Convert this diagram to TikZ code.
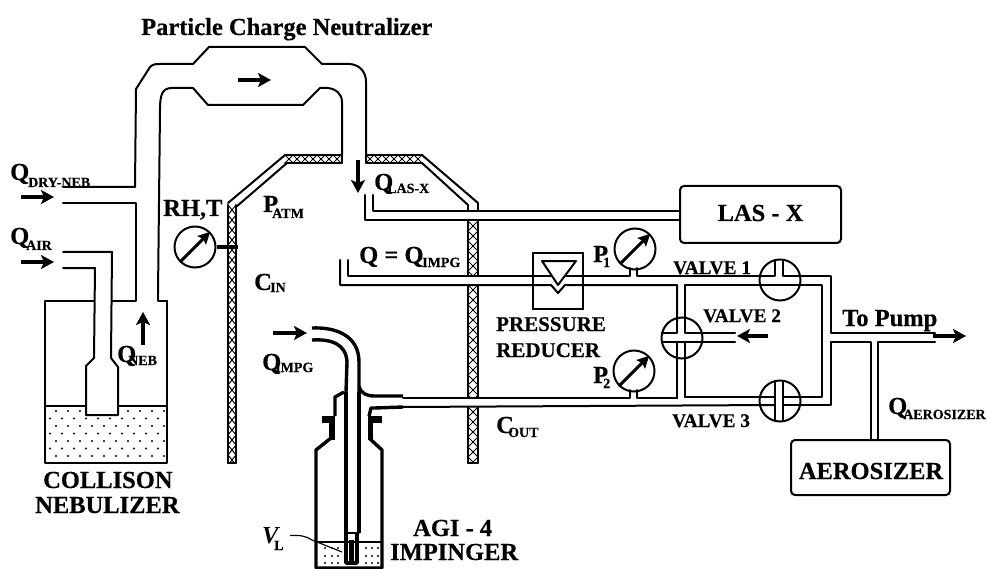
\documentclass[tikz,border=0pt]{standalone}
\usepackage{fontspec}
\setmainfont[BoldFeatures={FakeBold=0.4}]{Liberation Serif}
\usetikzlibrary{arrows.meta}
\newcommand{\hatchV}[4]{% x1 x2 y1 y2
  \begin{scope}
    \clip (#1,#3) rectangle (#2,#4);
    \foreach \ii in {0,...,30} {
      \draw[hatch] (#1,{#3+10*\ii}) -- (#2,{#3+10*\ii+10});
      \draw[hatch] (#2,{#3+10*\ii}) -- (#1,{#3+10*\ii+10});
    }
  \end{scope}
  \draw[pipe] (#1,#3) -- (#1,#4) (#2,#3) -- (#2,#4);
}
\newcommand{\hatchH}[4]{% x1 x2 y1 y2
  \begin{scope}
    \clip (#1,#3) rectangle (#2,#4);
    \foreach \ii in {0,...,7} {
      \draw[hatch] ({#1+8*\ii},#3) -- ({#1+8*\ii+8},#4);
      \draw[hatch] ({#1+8*\ii},#4) -- ({#1+8*\ii+8},#3);
    }
  \end{scope}
  \draw[pipe] (#1,#3) -- (#2,#3) (#1,#4) -- (#2,#4);
}
\tikzset{
  pipe/.style={line width=2pt,line join=round,line cap=round},
  thickpipe/.style={line width=3.4pt,line join=round},
  hatch/.style={line width=1pt},
  flow/.style={line width=3.2pt,-{Stealth[length=13pt,width=14pt,inset=3pt]}},
  gauge/.style={circle,draw,line width=2pt,minimum size=41pt,inner sep=0pt,fill=white},
  gaugeneedle/.style={line width=3pt,-{Stealth[length=12pt,width=12pt,inset=2pt]}},
  valve/.style={circle,draw,line width=2pt,minimum size=41pt,inner sep=0pt},
  unit/.style={draw,rounded corners=4pt,line width=2pt,inner sep=0pt,font=\fontsize{24.5}{24.5}\selectfont\bfseries},
  big/.style={anchor=base west,inner sep=0pt,font=\fontsize{24.5}{24.5}\selectfont\bfseries},
  mid/.style={anchor=base west,inner sep=0pt,font=\fontsize{21}{21}\selectfont\bfseries},
  small/.style={anchor=base west,inner sep=0pt,font=\fontsize{19.3}{19.3}\selectfont\bfseries},
  subs/.style={anchor=base west,inner sep=0pt,font=\fontsize{14}{14}\selectfont\bfseries},
}
\begin{document}
\begin{tikzpicture}[x=1pt,y=-1pt]
\useasboundingbox (0,0) rectangle (987,569);

% ---- neutralizer tube
\draw[pipe] (63,187) -- (135,187) -- (136,89) -- (150,67) .. controls (153,64) and (156,64) .. (160,64)
  -- (193,64) -- (209,47) -- (305,47) -- (322,64) -- (350,64)
  .. controls (360,65) and (366,72) .. (366,82) -- (366,155);
\draw[pipe] (63,203) -- (136,203) -- (136,301) -- (112,301);
\draw[pipe] (158,294) -- (160,110) .. controls (160,95) and (162,88) .. (172,88) -- (193,88)
  -- (208,105) -- (303,105) -- (320,88) -- (328,88)
  .. controls (336,89) and (342,94) .. (342,102) -- (342,155);
\draw[pipe] (158,294) -- (158,301) -- (167,301);

% ---- Collison nebulizer
\foreach \yy [count=\rr] in {411,418.5,426,433.5,441,448.5,456} {
  \foreach \xx in {50,62,...,158} {
    \pgfmathsetmacro{\dx}{mod(\rr,2)*6}
    \fill ({\xx+\dx},\yy) circle (1.2pt);
  }
}
\fill[white] (87,400) rectangle (117,414);
\draw[pipe] (94,301) -- (45,301) -- (45,463) -- (167,463) -- (167,301);
\draw[pipe] (45,406) -- (86,406) (118,406) -- (167,406);
\draw[pipe] (63,252) -- (112,252) -- (111,358) -- (118,367) -- (118,415) -- (86,415) -- (86,366) -- (94,358) -- (95,268) -- (63,268);

% ---- shield walls
\hatchV{228}{236}{205}{463}
\draw[pipe] (228,463) -- (236,463);
\hatchH{285}{342}{155}{163}
\hatchH{366}{422}{155}{163}
\draw[pipe] (342,155) -- (342,163) (366,155) -- (366,163);
\draw[pipe] (285,155) -- (228,203) (287,163) -- (236,207);
\draw[pipe] (422,155) -- (478,203) (422,163) -- (468,205);
\hatchV{468}{478}{221}{276}
\hatchV{468}{478}{285}{398}
\hatchV{468}{478}{407}{463}
\draw[pipe] (468,463) -- (478,463);
\draw[pipe] (468,205) -- (468,211) (478,203) -- (478,211);

% ---- gauges
\node[gauge] (rh) at (195,247) {};
\draw[gaugeneedle] (rh.225) -- (rh.45);
\draw[thickpipe] (rh.east) -- (238,247);

\node[gauge] (p1) at (635,249) {};
\draw[gaugeneedle] (p1.225) -- (p1.45);
\node[gauge] (p2) at (634,371) {};
\draw[gaugeneedle] (p2.225) -- (p2.45);

% ---- LAS-X
\node[unit,minimum width=161pt,minimum height=57pt] (lasx) at (760.5,214.5) {};
\node[anchor=base,inner sep=0pt,font=\fontsize{24.5}{24.5}\selectfont\bfseries] (lasxt) at (760.5,221) {LAS - X};
\draw[pipe] (365,195) -- (365,220) -- (lasx.west |- 0,220);
\draw[pipe] (373,195) -- (373,211) -- (lasx.west |- 0,211);

% ---- sampling line with reducer
\node[draw,line width=2pt,inner sep=0pt,minimum width=50pt,minimum height=56pt] (red) at (558,281) {};
\draw[pipe] (340,260) -- (340,285) -- (533,285) -- (551,285) -- (558,293) -- (565,285) -- (583,285) -- (677,285) -- (677,322);
\draw[pipe] (348,260) -- (348,276) -- (551,276);
\draw[pipe] (566,276) -- (630,276) -- (630,268);
\draw[pipe] (637,268) -- (637,276) -- (775,276) -- (775,260);
\draw[pipe] (542,261) -- (576,261) -- (558,285) -- cycle;
\draw[pipe] (685,285) -- (775,285);

% ---- valve 1
\node[valve] (v1) at (780,280) {};
\draw[pipe] (783,260) -- (783,276) -- (800,276) -- (831,276) -- (831,333) -- (935,333);
\draw[pipe] (760,285) -- (822,285) -- (822,397) -- (783,397);

% ---- valve 2
\node[valve] (v2) at (682,338) {};
\draw[pipe] (662,333) -- (677,333) -- (677,318);
\draw[pipe] (662,342) -- (703,342) -- (735,342);
\draw[pipe] (685,285) -- (685,333) -- (735,333);
\draw[pipe] (677,342) -- (677,398) (685,342) -- (685,397);
\draw[flow] (768,336) -- (737,336);

% ---- valve 3
\node[valve] (v3) at (780,401) {};
\draw[pipe] (403,398) -- (630,398) -- (630,390);
\draw[pipe] (637,390) -- (637,398) -- (677,398);
\draw[pipe] (685,397) -- (775,397);
\draw[pipe] (371,408) -- (403,407) -- (775,405);
\draw[pipe] (783,405) -- (831,405) -- (831,342);
\draw[pipe] (775,381) -- (775,421) (783,381) -- (783,421);

% ---- pump and aerosizer
\node[unit,minimum width=159pt,minimum height=55pt] (aero) at (870.5,467.5) {};
\node[anchor=base,inner sep=0pt,font=\fontsize{24.5}{24.5}\selectfont\bfseries] (aerot) at (871,479) {AEROSIZER};
\draw[pipe] (831,342) -- (871,342) -- (871,440);
\draw[pipe] (878,440) -- (878,342) -- (935,342);
\draw[flow] (933,336) -- (966,336);

% ---- impinger
\draw[thickpipe] (312,328) .. controls (335,327) and (359,335) .. (359,362) -- (359,392);
\draw[thickpipe] (312,340) .. controls (330,339) and (346,343) .. (347,362) -- (346,392);
\draw[thickpipe] (346,392) -- (346,533);
\draw[thickpipe] (359,392) -- (359,533);
\draw[thickpipe] (344,392) -- (335,397) -- (335,416);
\draw[thickpipe] (359,386) .. controls (361,394) and (367,396) .. (375,396) -- (403,396);
\draw[thickpipe] (403,407) -- (375,408) -- (371,408) -- (369,416);
\fill (322,416) rectangle (335,423);
\fill (368,416) rectangle (382,423);
\fill (329,423) rectangle (335,440);
\fill (368,423) rectangle (373,440);
\draw[thickpipe] (331,438) -- (316,450) -- (316,568) -- (382,568) -- (382,450) -- (369,438);
\draw[pipe] (316,542) -- (382,542);
\foreach \xx in {325,332,338,366,372,378}
  \foreach \yy in {548,556,563} \fill (\xx,\yy) circle (1.2pt);
\draw[thickpipe] (346,533) -- (346,563) -- (357,563) -- (357,533);
\fill (349,540) rectangle (354,563);
\draw[pipe] (346,533) -- (359,533);
\draw[line width=1.2pt] (290,535.5) .. controls (300,535) and (306,536) .. (312,540) -- (342,552);

% ---- flow arrows
\draw[flow] (238,80) -- (271,80);
\draw[flow] (21,197) -- (54,197);
\draw[flow] (21,262) -- (54,262);
\draw[flow] (143,345) -- (143,312);
\draw[flow] (358,160) -- (358,193);
\draw[flow] (273,333) -- (307,333);

% ---- labels
\node[big] (ttl) at (141,35) {Particle Charge Neutralizer};
\node[big] (qdry) at (10,180) {Q}; \node[subs] (qdrys) at (28,187) {DRY-NEB};
\node[big] (qair) at (10,244) {Q}; \node[subs] (qairs) at (26,250) {AIR};
\node[big] (qneb) at (117,362) {Q}; \node[subs] (qnebs) at (128,365) {NEB};
\node[big] (qimp) at (262,370) {Q}; \node[subs] (qimps) at (275,372) {IMPG};
\node[big] (patm) at (263,212) {P}; \node[subs] (patms) at (272,218) {ATM};
\node[big] (cin) at (254,290) {C}; \node[subs] (cins) at (270,292) {IN};
\node[big] (rht) at (163,216) {RH,T};
\node[big] (qlas) at (374,190) {Q}; \node[subs] (qlass) at (387,193) {LAS-X};
\node[big] (qeq) at (359,263) {Q = Q}; \node[subs] (qeqs) at (422,267) {IMPG};
\node[big] (pone) at (593,262) {P}; \node[subs] (pones) at (603,267) {1};
\node[big] (ptwo) at (593,383) {P}; \node[subs] (ptwos) at (603,388) {2};
\node[mid] (press) at (496,331) {PRESSURE};
\node[mid] (redu) at (496,357) {REDUCER};
\node[small] (vone) at (673,274) {VALVE 1};
\node[small] (vtwo) at (703,322) {VALVE 2};
\node[small] (vthr) at (672,427) {VALVE 3};
\node[big] (pump) at (842,326) {To Pump};
\node[big] (qaer) at (888,414) {Q}; \node[subs] (qaers) at (903,419) {AEROSIZER};
\node[big] (coll) at (43,488) {COLLISON};
\node[big] (nebu) at (35,513) {NEBULIZER};
\node[big] (cout) at (496,433) {C}; \node[subs] (couts) at (508,437) {OUT};
\node[big] (agi) at (413,536) {AGI - 4};
\node[big] (imping) at (390,560) {IMPINGER};
\node[big,font=\fontsize{24.5}{24.5}\selectfont\bfseries\itshape] (vl) at (262,543) {V}; \node[subs] (vls) at (274,550) {L};
\end{tikzpicture}
\end{document}
